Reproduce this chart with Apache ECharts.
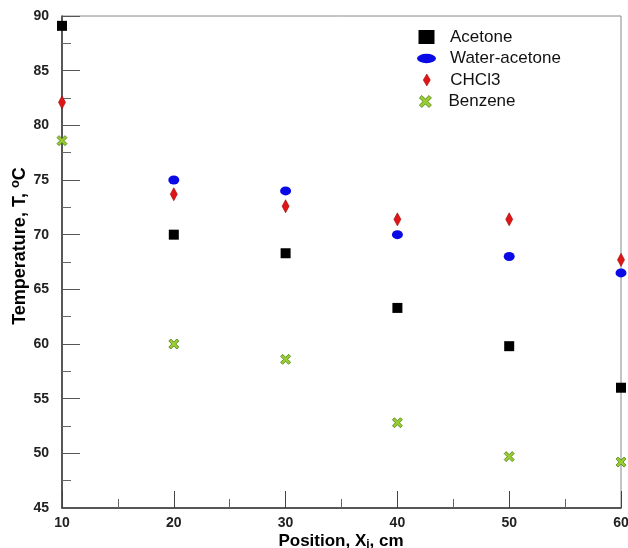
<!DOCTYPE html>
<html>
<head>
<meta charset="utf-8">
<script src="https://cdn.jsdelivr.net/npm/echarts@6/dist/echarts.min.js"></script>
<style>
html,body{margin:0;padding:0;background:#fff;}
#c{width:628px;height:548px;}
</style>
</head>
<body>
<div id="c"></div>
<script>
// ---- data ----
const positions = [10, 20, 30, 40, 50, 60];
const acetone = [89.1, 70.0, 68.3, 63.3, 59.8, 56.0];
const waterAcetone = [null, 75.0, 74.0, 70.0, 68.0, 66.5];
const chcl3 = [82.1, 73.7, 72.6, 71.4, 71.4, 67.7];
const benzene = [78.6, 60.0, 58.6, 52.8, 49.7, 49.2];
const seriesNames = ['Acetone', 'Water-acetone', 'CHCl3', 'Benzene'];
const xTicks = [10, 20, 30, 40, 50, 60];
const yTicks = [45, 50, 55, 60, 65, 70, 75, 80, 85, 90];

function pairs(vals) {
  const out = [];
  vals.forEach((v, i) => { if (v !== null) out.push([positions[i], v]); });
  return out;
}

const FONT = '"Liberation Sans", Arial, sans-serif';
const ELLIPSE = 'path://M0,5A10,5,0,1,1,20,5A10,5,0,1,1,0,5Z';
const XMARK = 'path://M0,2L2,0L5,3L8,0L10,2L7,5L10,8L8,10L5,7L2,10L0,8L3,5Z';

const styles = [
  { symbol: 'rect', size: [10, 10], item: { color: '#000000', opacity: 1 }, icon: 'rect', lw: 16, lh: 14, left: 418.5, cy: 37.5, pad: 10.5 },
  { symbol: ELLIPSE, size: [11, 9], item: { color: '#0a0ae6', opacity: 1 }, icon: ELLIPSE, lw: 19, lh: 13, left: 417, cy: 59, pad: 9 },
  { symbol: 'diamond', size: [7, 13], item: { color: '#e01515', borderColor: '#9a0b0b', borderWidth: 0.6, opacity: 1 }, icon: 'diamond', lw: 7, lh: 12, left: 423, cy: 80.5, pad: 15 },
  { symbol: XMARK, size: [10, 10], item: { color: '#9acd32', borderColor: '#4b7d14', borderWidth: 0.8, opacity: 1 }, icon: XMARK, lw: 16, lh: 12, left: 419, cy: 102, pad: 10 }
];
const dataSets = [acetone, waterAcetone, chcl3, benzene];

const legends = seriesNames.map((n, i) => ({
  show: true,
  orient: 'vertical',
  left: styles[i].left,
  top: styles[i].cy - 9,
  padding: 0,
  itemWidth: styles[i].lw,
  itemHeight: styles[i].lh,
  selectedMode: false,
  textStyle: { fontFamily: FONT, fontSize: 17, color: '#111', padding: [0, 0, 0, styles[i].pad] },
  data: [{ name: n, icon: styles[i].icon, itemStyle: styles[i].item }]
}));

const series = seriesNames.map((n, i) => ({
  name: n,
  type: 'scatter',
  clip: false,
  symbol: styles[i].symbol,
  symbolSize: styles[i].size,
  itemStyle: styles[i].item,
  data: pairs(dataSets[i])
}));

const chart = echarts.init(document.getElementById('c'), null, { renderer: 'canvas' });
chart.setOption({
  animation: false,
  backgroundColor: '#ffffff',
  grid: { left: 62, right: 7, top: 16, bottom: 40, show: true, borderColor: '#888', borderWidth: 1, backgroundColor: 'transparent', containLabel: false, outerBoundsMode: 'none' },
  legend: legends,
  xAxis: {
    type: 'value', min: xTicks[0], max: xTicks[xTicks.length - 1], interval: 10,
    axisLine: { show: true, lineStyle: { color: '#333', width: 1.5 } },
    axisTick: { show: true, inside: true, length: 17, lineStyle: { color: '#444', width: 1 } },
    minorTick: { show: true, splitNumber: 2, length: 9, lineStyle: { color: '#666', width: 1 } },
    splitLine: { show: false },
    axisLabel: { fontFamily: FONT, fontWeight: 'bold', fontSize: 14, color: '#222', margin: 8 }
  },
  yAxis: {
    type: 'value', min: yTicks[0], max: yTicks[yTicks.length - 1], interval: 5,
    axisLine: { show: true, lineStyle: { color: '#333', width: 1.5 } },
    axisTick: { show: true, inside: true, length: 18, lineStyle: { color: '#555', width: 1 } },
    minorTick: { show: true, splitNumber: 2, length: 9, lineStyle: { color: '#666', width: 1 } },
    splitLine: { show: false },
    axisLabel: { fontFamily: FONT, fontWeight: 'bold', fontSize: 14, color: '#222', margin: 13 }
  },
  graphic: [
    {
      type: 'text', x: 341, y: 541, z: 100,
      style: {
        text: '{b|Position, X}{s|j}{b|, cm}',
        align: 'center', verticalAlign: 'middle',
        rich: {
          b: { fontFamily: FONT, fontWeight: 'bold', fontSize: 17, color: '#222', lineHeight: 20, verticalAlign: 'middle' },
          s: { fontFamily: FONT, fontWeight: 'bold', fontSize: 12, color: '#222', lineHeight: 12, verticalAlign: 'bottom' }
        }
      }
    },
    {
      type: 'text', x: 20, y: 246, rotation: Math.PI / 2, z: 100,
      style: {
        text: '{b|Temperature, T, }{p|o}{b|C}',
        align: 'center', verticalAlign: 'middle',
        rich: {
          b: { fontFamily: FONT, fontWeight: 'bold', fontSize: 18, color: '#222', lineHeight: 22, verticalAlign: 'middle' },
          p: { fontFamily: FONT, fontWeight: 'bold', fontSize: 13, color: '#222', lineHeight: 13, verticalAlign: 'top' }
        }
      }
    }
  ],
  series: series
});
</script>
</body>
</html>
